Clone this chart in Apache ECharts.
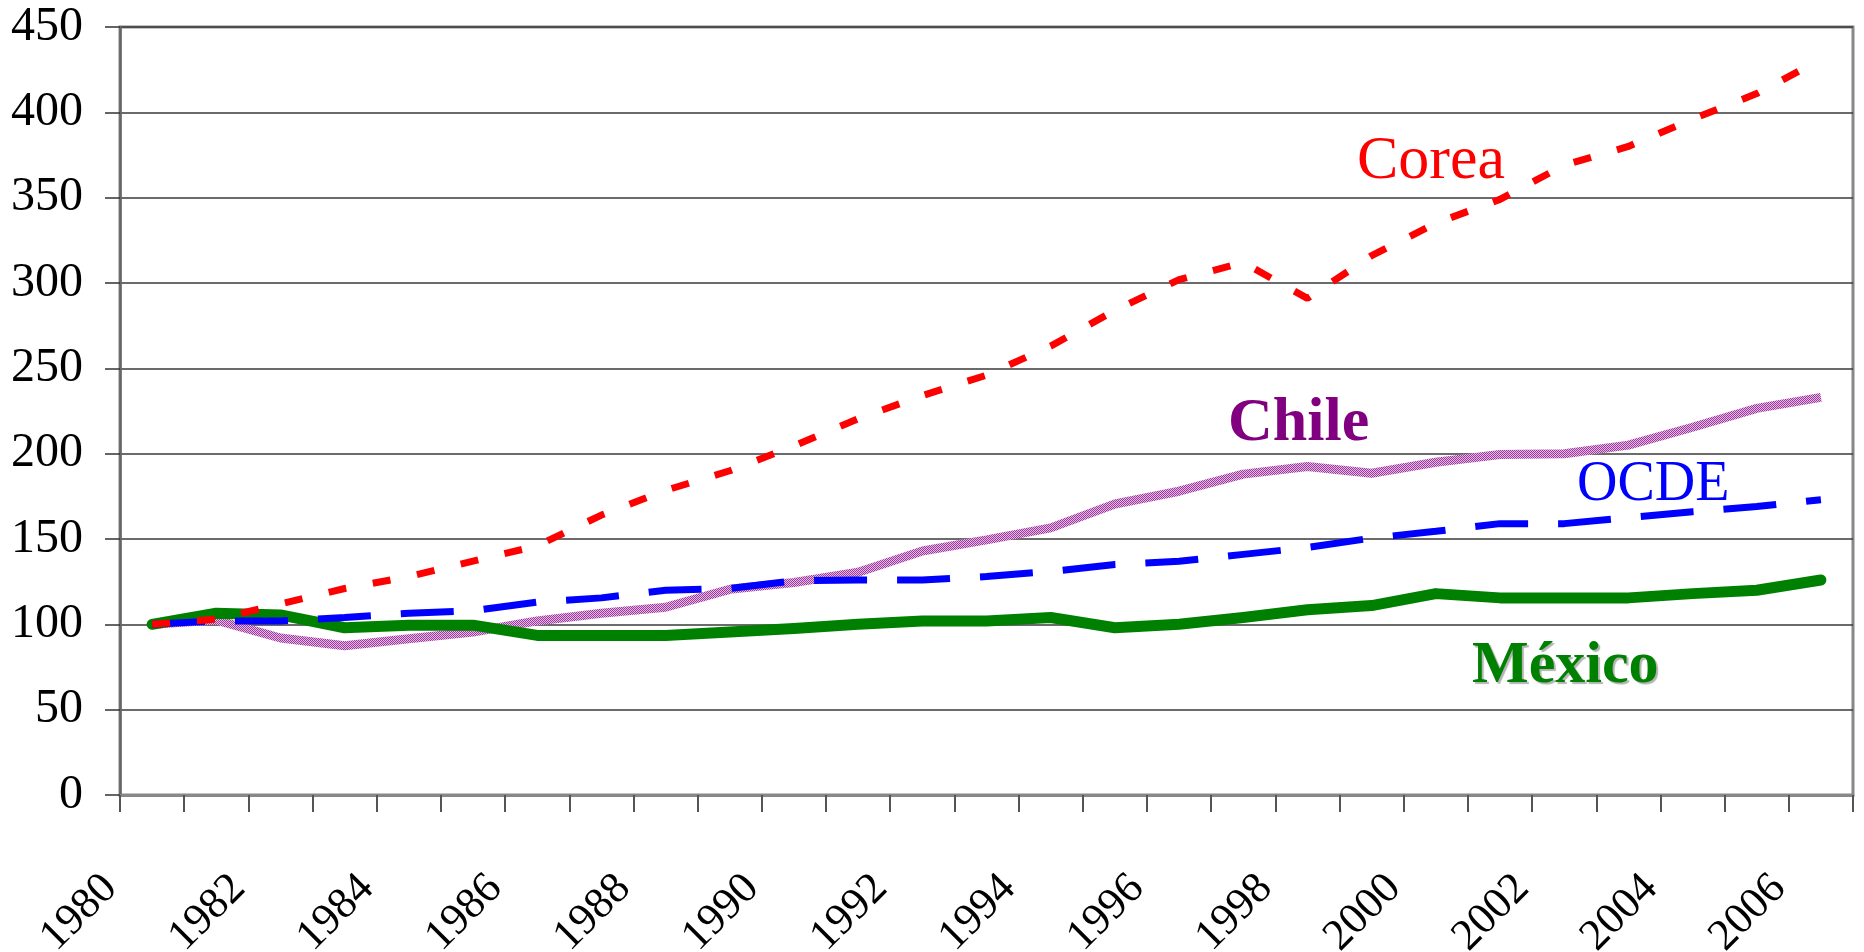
<!DOCTYPE html>
<html><head><meta charset="utf-8">
<script src="https://cdn.jsdelivr.net/npm/echarts@6/dist/echarts.min.js"></script>
<style>html,body{margin:0;padding:0;background:#fff}#c{width:1864px;height:952px}</style>
</head><body><div id="c"></div>
<script>
const years = ['1980','1981','1982','1983','1984','1985','1986','1987','1988','1989','1990','1991','1992','1993','1994','1995','1996','1997','1998','1999','2000','2001','2002','2003','2004','2005','2006'];
const mexico = [100, 106.5, 105.5, 98, 99.5, 99.5, 93.5, 93.5, 93.5, 95.5, 97.5, 100, 102, 102, 104, 98, 100, 104, 108.5, 111, 118, 115.5, 115.5, 115.5, 118, 120, 126];
const chile  = [100, 102.5, 92, 87.5, 91.5, 95.5, 102, 106.5, 110, 120.5, 124.5, 130.5, 143, 149.5, 156.5, 170.5, 178, 188, 192.5, 188.5, 195, 199.5, 200, 205, 215.5, 226.5, 233];
const ocde   = [100, 102, 102, 104, 106.5, 108, 113, 115.5, 120, 121, 125.5, 126, 126, 128, 131, 135, 137, 141, 145, 150.5, 154.5, 159, 159, 162.5, 166, 169, 173];
const corea  = [100, 103, 112, 121, 128, 137, 146, 164, 178.5, 190, 204.5, 220.5, 234, 246, 263, 284, 302, 312, 291, 316, 335, 349, 369, 380, 396, 411, 431];
const yMin = 0, yMax = 450, yStep = 50;

function chilePattern() {
  const cv = document.createElement('canvas');
  cv.width = 2; cv.height = 2;
  const ctx = cv.getContext('2d');
  ctx.fillStyle = '#E6B8E6'; ctx.fillRect(0, 0, 2, 2);
  ctx.fillStyle = '#9A3C9A'; ctx.fillRect(0, 0, 1, 1); ctx.fillRect(1, 1, 1, 1);
  return cv;
}

const FONT = '"Liberation Serif", "Times New Roman", serif';
const chart = echarts.init(document.getElementById('c'), null, {renderer: 'canvas'});
chart.setOption({
  animation: false,
  backgroundColor: '#fff',
  grid: {left: 120, right: 11, top: 27, bottom: 157, containLabel: false, outerBoundsMode: 'none',
         show: true, borderColor: '#888', borderWidth: 3, backgroundColor: 'transparent'},
  xAxis: {
    type: 'category', data: years, boundaryGap: true,
    axisLine: {lineStyle: {color: '#888', width: 3}},
    axisTick: {show: true, interval: 0, length: 17, lineStyle: {color: '#555', width: 2}},
    axisLabel: {interval: 1, rotate: 45, margin: 45, padding: [0, 59, 0, 0], color: '#000', fontFamily: FONT, fontSize: 44}
  },
  yAxis: {
    type: 'value', min: yMin, max: yMax, interval: yStep,
    axisLine: {show: true, lineStyle: {color: '#666', width: 2.5}},
    axisTick: {show: true, length: 15, lineStyle: {color: '#333', width: 1.5}},
    axisLabel: {margin: 37, color: '#000', fontFamily: FONT, fontSize: 48},
    splitLine: {show: true, lineStyle: {color: '#3a3a3a', width: 1.5}}
  },
  series: [
    {name: 'Chile', type: 'line', data: chile, symbol: 'none', z: 2,
     lineStyle: {width: 9, color: {image: chilePattern(), repeat: 'repeat'}}},
    {name: 'México', type: 'line', data: mexico, symbol: 'none', z: 3,
     lineStyle: {width: 11, color: '#008000', cap: 'round', join: 'round'}},
    {name: 'OCDE', type: 'line', data: ocde, symbol: 'none', z: 4,
     lineStyle: {width: 7, color: '#0000FF', type: [53, 30], cap: 'butt'}},
    {name: 'Corea', type: 'line', data: corea, symbol: 'none', z: 5,
     lineStyle: {width: 7, color: '#FF0000', type: [18, 27], cap: 'butt'}}
  ],
  graphic: [
    {type: 'text', x: 1357, y: 162, z: 10, style: {text: 'Corea', fill: '#FF0000', font: '62px ' + FONT, align: 'left', verticalAlign: 'middle'}},
    {type: 'text', x: 1228, y: 424, z: 10, style: {text: 'Chile', fill: '#800080', font: 'bold 62px ' + FONT, align: 'left', verticalAlign: 'middle'}},
    {type: 'text', x: 1577, y: 485, z: 10, style: {text: 'OCDE', fill: '#0000FF', font: '56px ' + FONT, align: 'left', verticalAlign: 'middle'}},
    {type: 'text', x: 1472, y: 666, z: 10, style: {text: 'México', fill: '#008000', font: 'bold 60px ' + FONT, align: 'left', verticalAlign: 'middle',
      textShadowColor: 'rgba(0,0,0,0.3)', textShadowOffsetX: 2, textShadowOffsetY: 2, textShadowBlur: 1}}
  ]
});
</script></body></html>
